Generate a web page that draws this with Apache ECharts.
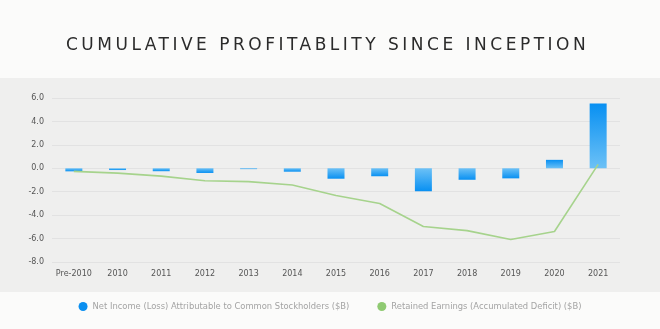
<!DOCTYPE html>
<html>
<head>
<meta charset="utf-8">
<script src="https://cdn.jsdelivr.net/npm/echarts@6/dist/echarts.min.js"></script>
<style>
  html, body { margin: 0; padding: 0; background: #fbfbfa; }
  #wrap { position: relative; width: 660px; height: 329px; }
  #title {
    position: absolute; left: 66px; top: 34px; white-space: nowrap;
    font-family: "DejaVu Sans", sans-serif; font-size: 17px; letter-spacing: 3.5px;
    color: #2b2b2b; line-height: 20px;
  }
  #chart { position: absolute; left: 0; top: 0; width: 660px; height: 329px; }
</style>
</head>
<body>
<div id="wrap">
  <div id="chart"></div>
  <div id="title">CUMULATIVE PROFITABLITY SINCE INCEPTION</div>
</div>
<script>
// Fiscal periods
const categories = ['Pre-2010', '2010', '2011', '2012', '2013', '2014', '2015', '2016', '2017', '2018', '2019', '2020', '2021'];
// Net income (loss) attributable to common stockholders, $B
const netIncome = [-0.26, -0.15, -0.25, -0.40, -0.07, -0.29, -0.89, -0.68, -1.96, -0.98, -0.86, 0.72, 5.52];
// Retained earnings (accumulated deficit), $B
const retainedEarnings = [-0.26, -0.41, -0.67, -1.07, -1.14, -1.43, -2.32, -3.00, -4.97, -5.32, -6.08, -5.40, 0.33];
// Value axis
const yMin = -8, yMax = 6, yStep = 2;

const chart = echarts.init(document.getElementById('chart'), null, { renderer: 'canvas' });

// Bars fade toward the zero line: darker at the far end
function barColor(v) {
  const dark = '#0890f2', light = '#6cc1f6';
  return new echarts.graphic.LinearGradient(0, 0, 0, 1,
    v >= 0 ? [{ offset: 0, color: dark }, { offset: 1, color: light }]
           : [{ offset: 0, color: light }, { offset: 1, color: dark }]);
}

const labelFont = { fontFamily: '"DejaVu Sans", sans-serif', fontSize: 8, color: '#555' };

chart.setOption({
  backgroundColor: 'transparent',
  animation: false,
  graphic: [{
    type: 'rect', z: -100,
    shape: { x: 0, y: 78, width: 660, height: 214 },
    style: { fill: '#efefee' }
  }],
  grid: { left: 52, right: 40, top: 98, bottom: 67, containLabel: false },
  legend: {
    bottom: 13, left: 'center', itemGap: 28, itemWidth: 9, itemHeight: 9,
    icon: 'circle',
    textStyle: { fontFamily: '"DejaVu Sans", sans-serif', fontSize: 8.4, color: '#a3a3a3' },
    data: [
      { name: 'Net Income (Loss) Attributable to Common Stockholders ($B)', itemStyle: { color: '#0a8ff0' } },
      { name: 'Retained Earnings (Accumulated Deficit) ($B)', itemStyle: { color: '#8fca72' } }
    ]
  },
  xAxis: {
    type: 'category', data: categories, position: 'bottom',
    axisLine: { show: false }, axisTick: { show: false },
    axisLabel: Object.assign({ margin: 8, interval: 0 }, labelFont),
    splitLine: { show: false }
  },
  yAxis: {
    type: 'value', min: yMin, max: yMax, interval: yStep,
    axisLine: { show: false }, axisTick: { show: false },
    axisLabel: Object.assign({ margin: 8, formatter: v => v.toFixed(1) }, labelFont),
    splitLine: { lineStyle: { color: '#e2e2e2', width: 1 } }
  },
  series: [
    {
      name: 'Net Income (Loss) Attributable to Common Stockholders ($B)',
      type: 'bar', barWidth: 17, z: 2,
      data: netIncome.map(v => ({ value: v, itemStyle: { color: barColor(v) } })),
      itemStyle: { color: '#0a8ff0' }
    },
    {
      name: 'Retained Earnings (Accumulated Deficit) ($B)',
      type: 'line', data: retainedEarnings, z: 3,
      symbol: 'none', smooth: false,
      lineStyle: { color: '#a6d38c', width: 1.6 },
      itemStyle: { color: '#8fca72' }
    }
  ]
});
</script>
</body>
</html>
